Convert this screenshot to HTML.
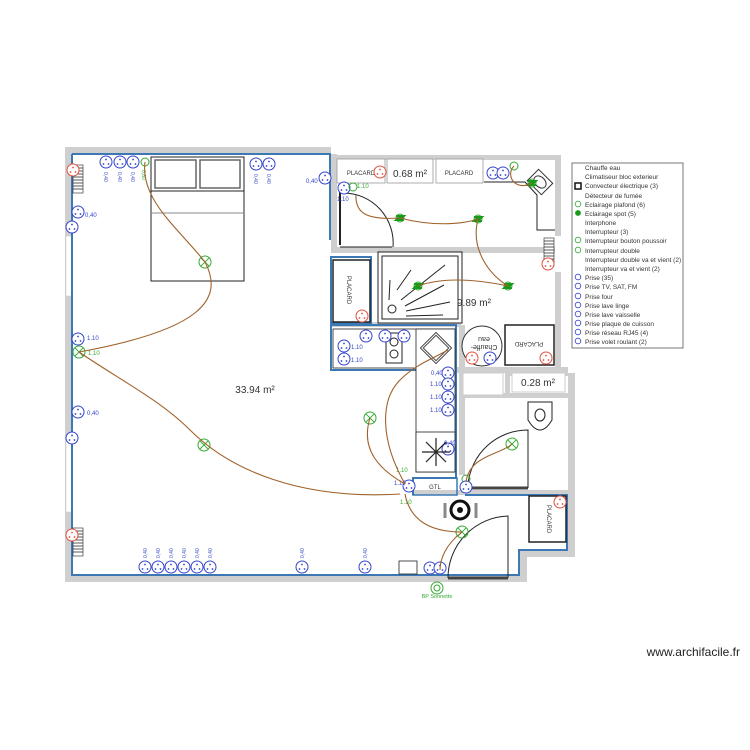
<!DOCTYPE html>
<html><head><meta charset="utf-8"><style>
html,body{margin:0;padding:0;background:#fff;}
svg{display:block;font-family:"Liberation Sans",sans-serif;}
</style></head><body>
<svg width="750" height="750" viewBox="0 0 750 750" xmlns="http://www.w3.org/2000/svg">
<defs>
<g id="so"><circle r="6" fill="#fff" stroke="#3344cc" stroke-width="1"/><circle cx="0" cy="-2.5" r="0.9" fill="#3344cc"/><circle cx="-2.5" cy="2" r="0.9" fill="#3344cc"/><circle cx="2.5" cy="2" r="0.9" fill="#3344cc"/></g>
<g id="sr"><circle r="6" fill="#fff" stroke="#e05040" stroke-width="1"/><circle cx="0" cy="-2.5" r="0.9" fill="#e05040"/><circle cx="-2.5" cy="2" r="0.9" fill="#e05040"/><circle cx="2.5" cy="2" r="0.9" fill="#e05040"/></g>
<g id="li"><circle r="6" fill="none" stroke="#33aa33" stroke-width="1"/><path d="M-4.2,-4.2L4.2,4.2M4.2,-4.2L-4.2,4.2" stroke="#33aa33" stroke-width="1"/></g>
<g id="sp"><circle r="4" fill="#fff" stroke="#33aa33" stroke-width="1"/><path d="M-4,-2H4L2,0H-2L-4,2H4" stroke="#1a9a1a" stroke-width="2" fill="none"/></g>
<g id="rad"><rect x="0" y="0" width="10" height="28" fill="#fff" stroke="#222" stroke-width="0.6"/><path d="M0,3H10M0,6H10M0,9H10M0,12H10M0,15H10M0,18H10M0,21H10M0,24H10" stroke="#222" stroke-width="0.8"/></g>
</defs>

<!-- outer grey walls -->
<g fill="#cfcfcf">
<rect x="65" y="147" width="266" height="7"/>
<rect x="331" y="155" width="229" height="5"/>
<rect x="555" y="155" width="6" height="220"/>
<rect x="65" y="147" width="7" height="435"/>
<rect x="65" y="575" width="462" height="7"/>
<rect x="519" y="550" width="8" height="32"/>
<rect x="519" y="550" width="56" height="7"/>
<rect x="568" y="373" width="7" height="184"/>
<rect x="505" y="373" width="70" height="3"/>
<rect x="331" y="247" width="224" height="6"/>
<rect x="459" y="325" width="6" height="150"/>
<rect x="455" y="367" width="113" height="6"/>
<rect x="505" y="373" width="5" height="22"/>
<rect x="462" y="393" width="106" height="5"/>
<rect x="413" y="490" width="155" height="5"/>
<rect x="331" y="154" width="6" height="97"/>
<rect x="331" y="322" width="130" height="5"/>
</g>
<!-- windows -->
<rect x="66" y="236" width="6" height="60" fill="#fff" stroke="#ccc" stroke-width="0.5"/>
<rect x="66" y="436" width="6" height="76" fill="#fff" stroke="#ccc" stroke-width="0.5"/>
<rect x="555" y="236" width="6" height="36" fill="#fff"/>

<!-- blue inner lines -->
<g fill="none" stroke="#3c78b4" stroke-width="2">
<path d="M72,154H330V240"/>
<path d="M72,154V575H519V550H567V495H465"/>
<path d="M331,257H371V323H331Z"/>
<path d="M331,325H456V370H331Z"/>
<path d="M456,325V478H413V495"/>
<path d="M413,478H457V495H413Z" stroke-width="1.5"/>
</g>

<!-- top placards -->
<g fill="#fff" stroke="#999" stroke-width="0.8">
<rect x="337" y="159" width="48" height="24"/>
<rect x="387" y="159" width="46" height="24"/>
<rect x="436" y="159" width="47" height="24"/>
</g>
<text x="361" y="175" font-size="6" text-anchor="middle" fill="#333">PLACARD</text>
<text x="410" y="177" font-size="10" text-anchor="middle" fill="#333">0.68 m²</text>
<text x="459" y="175" font-size="6" text-anchor="middle" fill="#333">PLACARD</text>
<use href="#sr" x="380" y="172"/>

<!-- bathroom top left door -->
<path d="M340,187V245" stroke="#222" stroke-width="2"/>
<path d="M340,247H392" stroke="#222" stroke-width="1"/>
<path d="M344,193A50,50 0 0 1 393,247" fill="none" stroke="#222" stroke-width="1"/>
<use href="#so" x="344" y="188"/><text x="337" y="201" font-size="6" fill="#3344cc">1.10</text>
<circle cx="353" cy="187" r="4" fill="none" stroke="#33aa33"/><text x="357" y="188" font-size="6" fill="#33aa33">1.10</text>

<!-- top right counter -->
<path d="M484,182H525L537,195V230H555" fill="none" stroke="#222" stroke-width="1"/>
<g transform="translate(540,182) rotate(45)"><rect x="-10" y="-8" width="20" height="16" fill="#fff" stroke="#333"/><ellipse rx="7" ry="5" fill="none" stroke="#333"/></g>
<use href="#so" x="493" y="173"/><use href="#so" x="503" y="173"/>
<circle cx="514" cy="166" r="4" fill="none" stroke="#33aa33"/>
<use href="#rad" x="544" y="238"/>
<use href="#sr" x="548" y="264"/>

<!-- placard vertical -->
<rect x="333" y="260" width="37" height="62" fill="#fff" stroke="#222" stroke-width="1.5"/>
<text transform="translate(347,290) rotate(90)" font-size="6" fill="#333" text-anchor="middle">PLACARD</text>
<use href="#sr" x="362" y="316"/>

<!-- shower -->
<rect x="378" y="252" width="84" height="71" fill="#fff" stroke="#222" stroke-width="1"/>
<rect x="382" y="256" width="76" height="63" fill="none" stroke="#222" stroke-width="1"/>
<g stroke="#222" stroke-width="1">
<line x1="390" y1="280" x2="389" y2="300"/><line x1="397" y1="290" x2="411" y2="270"/><line x1="401" y1="300" x2="445" y2="265"/><line x1="405" y1="306" x2="444" y2="285"/><line x1="406" y1="311" x2="450" y2="302"/><line x1="406" y1="316" x2="443" y2="315"/>
</g>
<circle cx="392" cy="309" r="4" fill="none" stroke="#222"/>
<text x="457" y="306" font-size="10" fill="#333">9.89 m²</text>

<!-- chauffe eau & placard right -->
<circle cx="482" cy="346" r="20" fill="#fff" stroke="#333"/>
<text transform="translate(484,345) rotate(180)" font-size="7" fill="#333" text-anchor="middle">Chauffe-</text>
<text transform="translate(484,337) rotate(180)" font-size="7" fill="#333" text-anchor="middle">eau</text>
<use href="#sr" x="472" y="358"/><use href="#so" x="490" y="358"/>
<rect x="505" y="325" width="49" height="40" fill="#fff" stroke="#222" stroke-width="1.5"/>
<text transform="translate(529,342) rotate(180)" font-size="6" fill="#333" text-anchor="middle">PLACARD</text>
<use href="#sr" x="546" y="358"/>

<!-- kitchen -->
<rect x="333" y="329" width="122" height="39" fill="#fff" stroke="#222" stroke-width="0.8"/>
<rect x="416" y="329" width="39" height="143" fill="#fff" stroke="#222" stroke-width="0.8"/>
<rect x="416" y="432" width="39" height="40" fill="#fff" stroke="#222" stroke-width="0.8"/>
<rect x="386" y="333" width="16" height="30" fill="#fff" stroke="#222"/>
<circle cx="394" cy="342" r="4" fill="none" stroke="#222"/><circle cx="394" cy="354" r="4" fill="none" stroke="#222"/>
<g transform="translate(436,348) rotate(45)"><rect x="-11" y="-11" width="22" height="22" fill="#fff" stroke="#444"/><rect x="-9" y="-9" width="18" height="18" fill="none" stroke="#444"/></g>
<use href="#so" x="344" y="346"/><use href="#so" x="344" y="359"/>
<text x="351" y="349" font-size="6" fill="#3344cc">1.10</text><text x="351" y="362" font-size="6" fill="#3344cc">1.10</text>
<use href="#so" x="366" y="336"/><use href="#so" x="385" y="336"/><use href="#so" x="404" y="336"/>
<use href="#so" x="448" y="373"/><use href="#so" x="448" y="384"/><use href="#so" x="448" y="397"/><use href="#so" x="448" y="410"/><use href="#so" x="448" y="449"/>
<g font-size="6" fill="#3344cc"><text x="431" y="375">0,40</text><text x="430" y="386">1.10</text><text x="430" y="399">1.10</text><text x="430" y="412">1.10</text><text x="444" y="445">0,40</text></g>
<g stroke="#222" stroke-width="1.2"><line x1="436" y1="438" x2="436" y2="466"/><line x1="422" y1="452" x2="450" y2="452"/><line x1="426" y1="442" x2="446" y2="462"/><line x1="446" y1="442" x2="426" y2="462"/></g>

<!-- 0.28 & WC -->
<rect x="463" y="373" width="40" height="22" fill="#fff" stroke="#ccc"/>
<rect x="512" y="373" width="53" height="19" fill="#fff" stroke="#ccc"/>
<text x="538" y="386" font-size="10" text-anchor="middle" fill="#333">0.28 m²</text>
<path d="M528,402H552V420Q540,440 528,420Z" fill="#fff" stroke="#222"/>
<ellipse cx="540" cy="415" rx="5" ry="6" fill="none" stroke="#222"/>
<path d="M469,488H528" stroke="#444" stroke-width="3"/>
<path d="M468,485A60,60 0 0 1 528,430V488" fill="none" stroke="#222"/>
<use href="#li" x="512" y="444"/>
<circle cx="466" cy="479" r="4" fill="none" stroke="#33aa33"/><use href="#so" x="466" y="487"/>

<!-- GTL -->
<text x="435" y="489" font-size="6" text-anchor="middle" fill="#333">GTL</text>

<!-- hall -->
<circle cx="460" cy="510" r="9" fill="none" stroke="#111" stroke-width="3"/><circle cx="460" cy="510" r="3" fill="#111"/>
<path d="M445,503V518M476,503V518" stroke="#888" stroke-width="3"/>
<path d="M448,578A62,62 0 0 1 508,516V578" fill="none" stroke="#222"/>
<path d="M448,578H508" stroke="#444" stroke-width="3"/>
<use href="#li" x="462" y="532"/>
<rect x="529" y="496" width="37" height="46" fill="#fff" stroke="#222" stroke-width="1.5"/>
<text transform="translate(547,519) rotate(90)" font-size="6" text-anchor="middle" fill="#333">PLACARD</text>
<use href="#sr" x="560" y="502"/>
<rect x="399" y="561" width="18" height="13" fill="#fff" stroke="#222" stroke-width="0.8"/>
<use href="#so" x="430" y="568"/><use href="#so" x="440" y="568"/>
<circle cx="437" cy="588" r="6" fill="none" stroke="#33aa33"/><circle cx="437" cy="588" r="3" fill="none" stroke="#33aa33"/>
<text x="437" y="598" font-size="5.5" text-anchor="middle" fill="#33aa33">BP Sonnette</text>
<use href="#so" x="409" y="486"/><text x="394" y="485" font-size="6" fill="#3344cc">1.10</text>
<text x="400" y="504" font-size="6" fill="#33aa33">1.10</text><text x="396" y="472" font-size="6" fill="#33aa33">1.10</text>

<!-- main room items -->
<rect x="151" y="157" width="93" height="124" fill="#fff" stroke="#222"/>
<line x1="151" y1="191" x2="244" y2="191" stroke="#222"/>
<line x1="151" y1="213" x2="244" y2="213" stroke="#888"/>
<rect x="155" y="160" width="41" height="28" fill="#fff" stroke="#666" stroke-width="1.5"/>
<rect x="200" y="160" width="40" height="28" fill="#fff" stroke="#666" stroke-width="1.5"/>
<text x="255" y="393" font-size="10" text-anchor="middle" fill="#333">33.94 m²</text>
<use href="#rad" x="73" y="165"/><use href="#sr" x="73" y="170"/>
<use href="#rad" x="73" y="528"/><use href="#sr" x="72" y="535"/>
<use href="#so" x="106" y="162"/><use href="#so" x="120" y="162"/><use href="#so" x="133" y="162"/>
<circle cx="145" cy="162" r="4" fill="none" stroke="#33aa33"/>
<use href="#so" x="256" y="164"/><use href="#so" x="269" y="164"/><use href="#so" x="325" y="178"/>
<text x="306" y="183" font-size="6" fill="#3344cc">0,40</text>
<use href="#so" x="78" y="212"/><text x="85" y="217" font-size="6" fill="#3344cc">0,40</text>
<use href="#so" x="72" y="227"/>
<use href="#so" x="78" y="339"/><text x="87" y="340" font-size="6" fill="#3344cc">1.10</text>
<use href="#li" x="79" y="352"/><text x="88" y="355" font-size="6" fill="#33aa33">1.10</text>
<use href="#so" x="78" y="412"/><text x="87" y="415" font-size="6" fill="#3344cc">0,40</text>
<use href="#so" x="72" y="438"/>
<use href="#so" x="145" y="567"/><use href="#so" x="158" y="567"/><use href="#so" x="171" y="567"/><use href="#so" x="184" y="567"/><use href="#so" x="197" y="567"/><use href="#so" x="210" y="567"/><use href="#so" x="302" y="567"/><use href="#so" x="365" y="567"/>
<g font-size="5" fill="#3344cc">
<text transform="translate(104,172) rotate(90)">0,40</text><text transform="translate(118,172) rotate(90)">0,40</text><text transform="translate(131,172) rotate(90)">0,40</text><text transform="translate(142,170) rotate(90)" fill="#33aa33">0,80</text>
<text transform="translate(254,174) rotate(90)">0,40</text><text transform="translate(267,174) rotate(90)">0,40</text>
<text transform="translate(147,558) rotate(-90)">0,40</text><text transform="translate(160,558) rotate(-90)">0,40</text><text transform="translate(173,558) rotate(-90)">0,40</text><text transform="translate(186,558) rotate(-90)">0,40</text><text transform="translate(199,558) rotate(-90)">0,40</text><text transform="translate(212,558) rotate(-90)">0,40</text><text transform="translate(304,558) rotate(-90)">0,40</text><text transform="translate(367,558) rotate(-90)">0,40</text>
</g>
<use href="#li" x="205" y="262"/><use href="#li" x="204" y="445"/><use href="#li" x="370" y="418"/>

<!-- spots -->
<use href="#sp" x="400" y="218"/><use href="#sp" x="478" y="219"/><use href="#sp" x="418" y="286"/><use href="#sp" x="508" y="286"/><use href="#sp" x="532" y="183"/>

<!-- wires -->
<g fill="none" stroke="#a0622a" stroke-width="1.1">
<path d="M145,162C140,200 180,230 205,262C225,300 200,330 79,352"/>
<path d="M79,352C120,380 160,400 190,430C230,470 300,500 400,494"/>
<path d="M370,418C360,450 380,470 405,484"/>
<path d="M405,484C380,440 380,400 400,380C415,365 430,360 448,350"/>
<path d="M405,494C410,520 430,532 462,532"/>
<path d="M462,532C445,545 440,560 440,570"/>
<path d="M356,195C355,215 370,220 400,218C430,226 460,225 478,219C470,250 490,275 508,286C470,278 440,278 418,286"/>
<path d="M514,166C505,175 515,192 532,183"/>
<path d="M466,482C470,455 500,455 512,444"/>
</g>

<!-- legend -->
<rect x="572" y="163" width="111" height="185" fill="#fff" stroke="#555" stroke-width="0.8"/>
<g font-size="6.5" fill="#333">
<text x="585" y="170">Chauffe eau</text>
<text x="585" y="179">Climatiseur bloc exterieur</text>
<text x="585" y="188">Convecteur électrique (3)</text>
<text x="585" y="198">Détecteur de fumée</text>
<text x="585" y="207">Eclairage plafond (6)</text>
<text x="585" y="216">Eclairage spot (5)</text>
<text x="585" y="225">Interphone</text>
<text x="585" y="234">Interrupteur (3)</text>
<text x="585" y="243">Interrupteur bouton poussoir</text>
<text x="585" y="253">Interrupteur double</text>
<text x="585" y="262">Interrupteur double va et vient (2)</text>
<text x="585" y="271">Interrupteur va et vient (2)</text>
<text x="585" y="280">Prise (35)</text>
<text x="585" y="289">Prise TV, SAT, FM</text>
<text x="585" y="299">Prise four</text>
<text x="585" y="308">Prise lave linge</text>
<text x="585" y="317">Prise lave vaisselle</text>
<text x="585" y="326">Prise plaque de cuisson</text>
<text x="585" y="335">Prise réseau RJ45 (4)</text>
<text x="585" y="344">Prise volet roulant (2)</text>
</g>
<rect x="575" y="183" width="6" height="6" fill="#fff" stroke="#111" stroke-width="1.5"/>
<g fill="none" stroke-width="0.8">
<circle cx="578" cy="204" r="2.8" stroke="#33aa33"/><circle cx="578" cy="213" r="2.5" fill="#1a9a1a" stroke="#1a9a1a"/>
<circle cx="578" cy="240" r="2.8" stroke="#33aa33"/><circle cx="578" cy="250" r="2.8" stroke="#33aa33"/>
<circle cx="578" cy="277" r="2.8" stroke="#3344cc"/><circle cx="578" cy="286" r="2.8" stroke="#3344cc"/><circle cx="578" cy="296" r="2.8" stroke="#3344cc"/><circle cx="578" cy="305" r="2.8" stroke="#3344cc"/><circle cx="578" cy="314" r="2.8" stroke="#3344cc"/><circle cx="578" cy="323" r="2.8" stroke="#3344cc"/><circle cx="578" cy="332" r="2.8" stroke="#3344cc"/><circle cx="578" cy="341" r="2.8" stroke="#3344cc"/>
</g>

<text x="740" y="656" font-size="12" text-anchor="end" fill="#222">www.archifacile.fr</text>
</svg>
</body></html>
